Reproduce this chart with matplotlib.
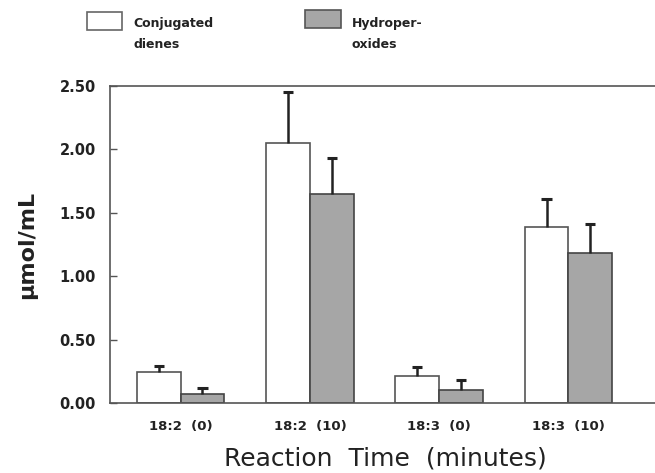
import matplotlib
matplotlib.use("Agg")
import matplotlib.pyplot as plt
import numpy as np
from matplotlib.patches import Rectangle

categories = ["18:2  (0)", "18:2  (10)", "18:3  (0)", "18:3  (10)"]
dienes = [0.245, 2.05, 0.21, 1.39]
dienes_err = [0.045, 0.40, 0.07, 0.22]
hydro = [0.07, 1.65, 0.10, 1.185]
hydro_err = [0.045, 0.28, 0.08, 0.225]
yticks = [0.0, 0.5, 1.0, 1.5, 2.0, 2.5]

plt.rcParams['font.family'] = ['DejaVu Sans']

fig = plt.figure(figsize=(6.55, 4.73), dpi=100)
ax = fig.add_axes([110/655, 70/473, 1.0 - 110/655 + 0.01, 317/473])

x = np.arange(len(categories))
w = 0.338
cap = 0.04
edge = '#555555'
gray = '#a6a6a6'
ax.bar(x - w/2, dienes, w, color='white', edgecolor=edge, linewidth=1.2, zorder=2)
ax.bar(x + w/2, hydro, w, color=gray, edgecolor='#444444', linewidth=1.2, zorder=2)
for xs, vals, errs in [(x - w/2, dienes, dienes_err), (x + w/2, hydro, hydro_err)]:
    vals = np.array(vals)
    tops = vals + np.array(errs)
    ax.vlines(xs, vals, tops, colors='#222222', linewidth=1.8, zorder=3)
    ax.hlines(tops, xs - cap, xs + cap, colors='#222222', linewidth=2.2, zorder=3)

ax.set_xlim(-0.546, 3.72)
ax.set_ylim(0, 2.5)
ax.set_yticks(yticks)
ax.set_yticklabels([f"{v:.2f}" for v in yticks], fontsize=10.5, fontweight='bold', color='#222222')
ax.set_xticks(x)
ax.set_xticklabels(categories, fontsize=9.5, fontweight='bold', color='#222222')
ax.tick_params(axis='x', length=0, pad=12)
ax.tick_params(axis='y', direction='in', length=5, width=1, color='#555555', pad=10)
for s in ['left', 'top', 'bottom']:
    ax.spines[s].set_color('#555555')
    ax.spines[s].set_linewidth(1.2)
ax.spines['right'].set_visible(False)

ax.set_ylabel("μmol/mL", fontsize=16, fontweight='bold', color='#222222', labelpad=16)
ax.set_xlabel("Reaction  Time  (minutes)", fontsize=18, color='#222222', labelpad=10)

# legend
fig.patches.append(Rectangle((87/655, 1 - 30/473), 35/655, 18/473, transform=fig.transFigure,
                             facecolor='white', edgecolor='#666666', linewidth=1.2))
fig.text(133/655, 1 - 17/473, "Conjugated\ndienes", fontsize=9, fontweight='bold',
         va='top', ha='left', color='#222222', linespacing=1.75)
fig.patches.append(Rectangle((305/655, 1 - 28/473), 36/655, 18/473, transform=fig.transFigure,
                             facecolor=gray, edgecolor='#555555', linewidth=1.2))
fig.text(352/655, 1 - 17/473, "Hydroper-\noxides", fontsize=9, fontweight='bold',
         va='top', ha='left', color='#222222', linespacing=1.75)

fig.savefig("out.png", dpi=100)
